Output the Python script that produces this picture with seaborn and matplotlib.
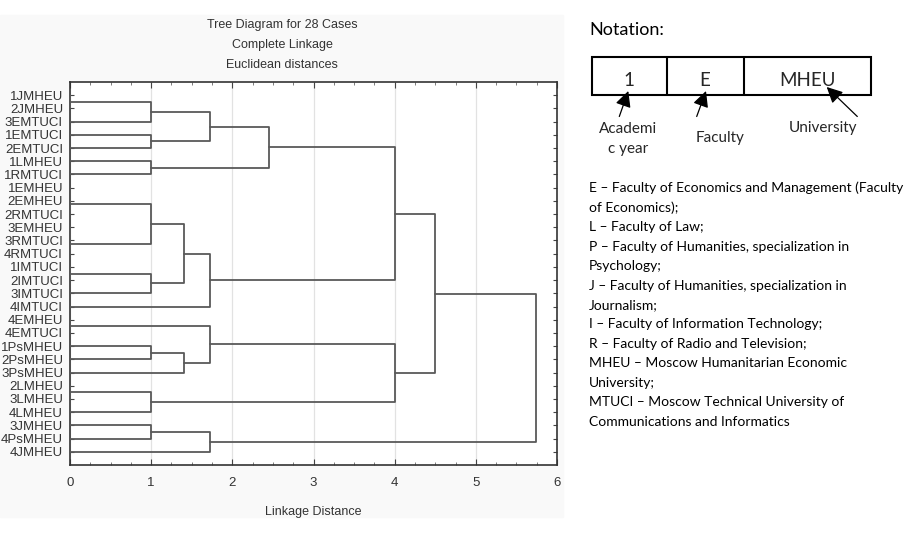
import matplotlib
matplotlib.use('Agg')
import matplotlib.pyplot as plt
import pandas as pd
import seaborn as sns
from matplotlib.patches import Rectangle
from matplotlib.ticker import MultipleLocator

# leaf order as shown top to bottom
leaves = ['1JMHEU', '2JMHEU', '3EMTUCI', '1EMTUCI', '2EMTUCI', '1LMHEU', '1RMTUCI',
          '1EMHEU', '2EMHEU', '2RMTUCI', '3EMHEU', '3RMTUCI', '4RMTUCI', '1IMTUCI',
          '2IMTUCI', '3IMTUCI', '4IMTUCI', '4EMHEU', '4EMTUCI', '1PsMHEU', '2PsMHEU',
          '3PsMHEU', '2LMHEU', '3LMHEU', '4LMHEU', '3JMHEU', '4PsMHEU', '4JMHEU']

# linkage steps (cluster ids >= 28 are earlier merges, in order)
merge_left = [0, 28, 3, 29, 5, 31, 7, 34, 10, 36, 35, 13, 39, 38, 41, 33,
              17, 19, 45, 44, 22, 48, 47, 43, 25, 52, 51]
merge_right = [1, 2, 4, 30, 6, 32, 8, 9, 11, 12, 37, 14, 15, 40, 16, 42,
               18, 20, 21, 46, 23, 24, 49, 50, 26, 27, 53]
merge_dist = [0, 1, 1, 1.73, 1, 2.45, 0, 0, 0, 0, 1, 0, 1, 1.41, 1.73, 4.0,
              0, 1, 1.41, 1.73, 0, 1, 4.0, 4.5, 1, 1.73, 5.74]

title_lines = ['Tree Diagram for 28 Cases', 'Complete Linkage', 'Euclidean distances']

notation_lines = [
    'E \u2013 Faculty of Economics and Management (Faculty',
    'of Economics);',
    'L \u2013 Faculty of Law;',
    'P \u2013 Faculty of Humanities, specialization in',
    'Psychology;',
    'J \u2013 Faculty of Humanities, specialization in',
    'Journalism;',
    'I \u2013 Faculty of Information Technology;',
    'R \u2013 Faculty of Radio and Television;',
    'MHEU \u2013 Moscow Humanitarian Economic',
    'University;',
    'MTUCI \u2013 Moscow Technical University of',
    'Communications and Informatics',
]

# build dendrogram segments
n = len(leaves)
pos = {i: float(i) for i in range(n)}
hgt = {i: 0.0 for i in range(n)}
rows = []
for k, (a, b, d) in enumerate(zip(merge_left, merge_right, merge_dist)):
    xs = [hgt[a], d, d, hgt[b]]
    ys = [pos[a], pos[a], pos[b], pos[b]]
    for x, y in zip(xs, ys):
        rows.append({'seg': k, 'x': x, 'y': y})
    pos[n + k] = (pos[a] + pos[b]) / 2
    hgt[n + k] = d
seg_df = pd.DataFrame(rows)

sns.set_style("white")
plt.rcParams['font.family'] = ['Liberation Sans', 'DejaVu Sans']

W, H = 913, 536
fig = plt.figure(figsize=(W / 100, H / 100), dpi=100)
fig.patch.set_facecolor('white')

# light grey panel behind the dendrogram
fig.patches.append(Rectangle((0, 1 - 517 / H), 563 / W, (517 - 15) / H,
                             transform=fig.transFigure, color='#f9f9f9', zorder=-5))

ax = fig.add_axes([70 / W, 1 - 465 / H, (557 - 70) / W, (465 - 82) / H])
ax.set_facecolor('white')
sns.lineplot(data=seg_df, x='x', y='y', units='seg', estimator=None, sort=False,
             color='#595959', linewidth=1.3, ax=ax, zorder=3)

ax.set_xlim(0, 6)
ax.set_ylim(n, -1)
ax.xaxis.set_major_locator(MultipleLocator(1))
ax.xaxis.set_minor_locator(MultipleLocator(0.25))
ax.set_yticks(range(n))
ax.set_yticklabels(leaves)
ax.grid(True, axis='x', which='major', color='#e2e2e2', linewidth=0.9, zorder=0)
ax.tick_params(axis='x', which='major', direction='in', top=True, bottom=True,
               length=4, width=0.8, color='#444444', labelsize=9.5, labelcolor='#333333', pad=9)
ax.tick_params(axis='x', which='minor', direction='in', top=True, bottom=True,
               length=2, width=0.6, color='#666666')
ax.tick_params(axis='y', direction='in', left=True, right=True, length=3, width=0.8,
               color='#444444', labelsize=9.5, labelcolor='#333333', pad=5)
for s in ax.spines.values():
    s.set_color('#333333')
    s.set_linewidth(1.2)
ax.set_xlabel('Linkage Distance', fontsize=9, color='#333333', labelpad=12)
ax.set_ylabel('')

for i, t in enumerate(title_lines):
    fig.text(282 / W, 1 - (25 + 20 * i) / H, t, ha='center', va='center',
             fontsize=9, color='#333333')

# notation diagram on the right, drawn in pixel coordinates
ov = fig.add_axes([0, 0, 1, 1], facecolor='none')
ov.set_xlim(0, W)
ov.set_ylim(H, 0)
ov.axis('off')

nf = ['Lato', 'DejaVu Sans']
ov.text(589, 35, 'Notation:', fontsize=13, family=nf, va='baseline', color='black')
ov.add_patch(Rectangle((591.5, 56.5), 871 - 591.5, 95 - 56.5, fill=False, ec='black', lw=1.5))
ov.plot([666.5, 666.5], [56.5, 95], color='black', lw=1.5)
ov.plot([744, 744], [56.5, 95], color='black', lw=1.5)
ov.text(629, 86, '1', fontsize=13.5, family=nf, ha='center', va='baseline')
ov.text(705, 86, 'E', fontsize=13.5, family=nf, ha='center', va='baseline')
ov.text(807.5, 86, 'MHEU', fontsize=13.5, family=nf, ha='center', va='baseline')

arrow = dict(arrowstyle='-|>', color='black', lw=0.9, mutation_scale=24, shrinkA=0, shrinkB=0)
ov.annotate('', xy=(628.3, 91), xytext=(619.3, 116.5), arrowprops=arrow)
ov.annotate('', xy=(706, 91), xytext=(696.7, 116.5), arrowprops=arrow)
ov.annotate('', xy=(826.7, 87), xytext=(857.3, 116.5), arrowprops=arrow)

ov.text(628, 133.3, 'Academi', fontsize=11, family=nf, ha='center', va='baseline')
ov.text(628, 153, 'c year', fontsize=11, family=nf, ha='center', va='baseline')
ov.text(720, 141.7, 'Faculty', fontsize=11, family=nf, ha='center', va='baseline')
ov.text(823, 131.7, 'University', fontsize=11, family=nf, ha='center', va='baseline')

for i, line in enumerate(notation_lines):
    ov.text(589, 192.5 + 19.42 * i, line, fontsize=10, family=nf, va='baseline', color='black')

fig.savefig('out.png', dpi=100)
